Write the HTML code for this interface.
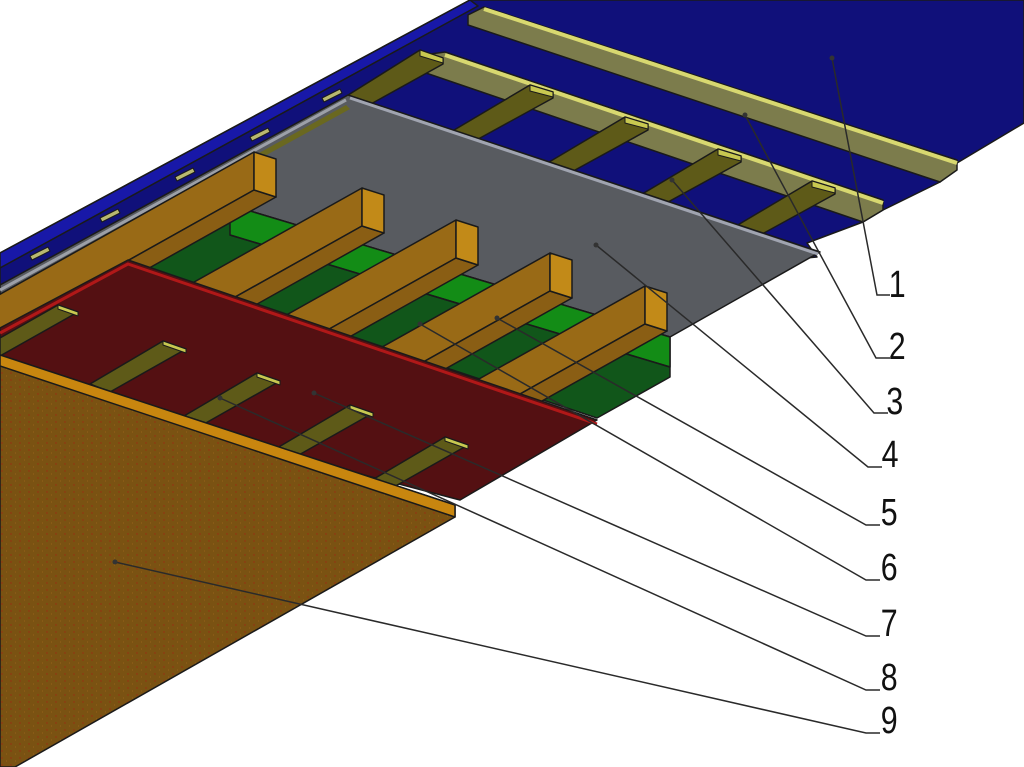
<!DOCTYPE html>
<html><head><meta charset="utf-8"><style>
html,body{margin:0;padding:0;background:#fff;width:1024px;height:767px;overflow:hidden}
svg{display:block}
text{font-family:"Liberation Sans",sans-serif;font-size:38px;fill:#111}
</style></head><body>
<svg width="1024" height="767" viewBox="0 0 1024 767" xmlns="http://www.w3.org/2000/svg">
<defs>
<pattern id="dots" width="9" height="7" patternUnits="userSpaceOnUse">
<rect width="9" height="7" fill="#7a5212"/>
<circle cx="2" cy="2" r="0.7" fill="#9a2a10"/>
<circle cx="6.5" cy="5" r="0.6" fill="#946018"/>
</pattern>
</defs>
<g stroke="#1a1a1a" stroke-width="1.5" stroke-linejoin="round">
<!-- blue panel -->
<polygon points="0,253 470,0 1024,0 1024,123 957,163 940,182 883,210 863,222 807,243 817,257 0,330" fill="#10107a"/>
<polygon points="0,253 470,0 478,6 0,268" fill="#1818a8"/>
<!-- long battens -->
<polygon points="468,15 484,7 957,160 957,170 940,182 468,25" fill="#7c7c4c"/>
<line x1="484" y1="9" x2="957" y2="163" stroke="#d8d870" stroke-width="4"/>
<polygon points="423,55 445,52 883,200 883,210 863,222 423,72" fill="#7c7c4c"/>
<line x1="445" y1="55" x2="883" y2="203" stroke="#d8d870" stroke-width="4"/>
<!-- cross battens -->
<g fill="#5e5a18">
<polygon points="420,50 443,58 443,64 360,110 337,102"/>
<polygon points="530,85 553,92 553,98 440,160 417,152"/>
<polygon points="625,117 648,124 648,130 535,192 512,184"/>
<polygon points="718,149 741,156 741,162 628,224 605,216"/>
<polygon points="812,181 835,188 835,194 722,256 699,248"/>
</g>
<g fill="#c8c850" stroke-width="1">
<polygon points="420,50 443,58 443,63 420,56"/>
<polygon points="530,85 553,92 553,97 530,91"/>
<polygon points="625,117 648,124 648,129 625,123"/>
<polygon points="718,149 741,156 741,161 718,155"/>
<polygon points="812,181 835,188 835,193 812,187"/>
</g>
<!-- gray panel -->
<polygon points="0,285 348,95 820,252 670,337 230,205 0,340" fill="#585b60"/>
<line x1="350" y1="98" x2="818" y2="254" stroke="#a0a4b0" stroke-width="3"/>
<line x1="0" y1="290" x2="346" y2="100" stroke="#9ca0a8" stroke-width="3"/>
<polygon points="0,296 346,105 350,109 0,302" fill="#6a6820" stroke="none"/>
<!-- small battens on left edge -->
<g fill="#b8b870" stroke-width="1">
<polygon points="30,256 48,247 50,251 32,260"/><polygon points="100,218 118,209 120,213 102,222"/>
<polygon points="175,177 193,168 195,172 177,181"/><polygon points="250,137 268,128 270,132 252,141"/>
<polygon points="322,98 340,89 342,93 324,102"/>
</g>
<!-- green layer -->
<polygon points="128,262 230,205 670,337 670,377 597,418" fill="#11561a"/>
<polygon points="230,205 670,337 670,367 230,235" fill="#138c16"/>
<line x1="230" y1="235" x2="670" y2="367"/>
<!-- beams -->
<g>
<polygon points="254,152 254,190 -146,414 -146,376" fill="#996a16"/>
<polygon points="254,190 276,197 -124,421 -146,414" fill="#8a5e14"/>
<polygon points="254,152 276,159 276,197 254,190" fill="#c28a18"/>
<polygon points="362,188 362,226 -38,450 -38,412" fill="#996a16"/>
<polygon points="362,226 384,233 -16,457 -38,450" fill="#8a5e14"/>
<polygon points="362,188 384,195 384,233 362,226" fill="#c28a18"/>
<polygon points="456,220 456,258 56,482 56,444" fill="#996a16"/>
<polygon points="456,258 478,265 78,489 56,482" fill="#8a5e14"/>
<polygon points="456,220 478,227 478,265 456,258" fill="#c28a18"/>
<polygon points="550,253 550,291 150,515 150,477" fill="#996a16"/>
<polygon points="550,291 572,298 172,522 150,515" fill="#8a5e14"/>
<polygon points="550,253 572,260 572,298 550,291" fill="#c28a18"/>
<polygon points="645,286 645,324 245,548 245,510" fill="#996a16"/>
<polygon points="645,324 667,331 267,555 245,548" fill="#8a5e14"/>
<polygon points="645,286 667,293 667,331 645,324" fill="#c28a18"/>
</g>
<!-- red panel -->
<polygon points="0,328 128,260 597,420 460,500 0,380" fill="#541012"/>
<polyline points="0,333 128,264 597,424" fill="none" stroke="#b01818" stroke-width="3"/>
<!-- slots -->
<g>
<polygon points="58,305 78,312 0,356 0,338" fill="#5e5a18"/>
<polygon points="163,341 186,349 110,392 90,384" fill="#5e5a18"/>
<polygon points="257,373 280,381 204,424 184,416" fill="#5e5a18"/>
<polygon points="350,405 373,413 297,456 277,448" fill="#5e5a18"/>
<polygon points="445,437 468,445 392,488 372,480" fill="#5e5a18"/>
</g>
<g fill="#c8c850" stroke-width="1">
<polygon points="58,305 78,312 78,316 58,309"/>
<polygon points="163,341 186,349 186,353 163,345"/>
<polygon points="257,373 280,381 280,385 257,377"/>
<polygon points="350,405 373,413 373,417 350,409"/>
<polygon points="445,437 468,445 468,449 445,441"/>
</g>
<!-- brown board -->
<polygon points="0,355 455,505 455,517 15,767 0,767" fill="url(#dots)"/>
<polygon points="0,355 455,505 455,517 0,366" fill="#c8860f"/>
</g>
<!-- leaders -->
<g stroke="#2a2a2a" stroke-width="1.5" fill="none">
<polyline points="832,58 877,295 890,295"/>
<polyline points="745,115 876,358 890,358"/>
<polyline points="672,180 874,413 888,413"/>
<polyline points="596,245 868,467 882,467"/>
<polyline points="497,318 866,525 880,525"/>
<polyline points="420,324 866,580 880,580"/>
<polyline points="314,393 866,636 880,636"/>
<polyline points="220,398 866,690 880,690"/>
<polyline points="115,562 866,733 880,733"/>
</g>
<g fill="#333">
<circle cx="832" cy="58" r="2.5"/><circle cx="745" cy="115" r="2.5"/><circle cx="672" cy="180" r="2.5"/>
<circle cx="596" cy="245" r="2.5"/><circle cx="497" cy="318" r="2.5"/><circle cx="420" cy="324" r="2.5"/>
<circle cx="314" cy="393" r="2.5"/><circle cx="220" cy="398" r="2.5"/><circle cx="115" cy="562" r="2.5"/>
</g>
<g transform="scale(0.8,1)">
<text x="1111" y="297">1</text>
<text x="1111" y="359">2</text>
<text x="1108" y="414">3</text>
<text x="1102" y="467">4</text>
<text x="1101" y="525">5</text>
<text x="1101" y="580">6</text>
<text x="1101" y="636">7</text>
<text x="1101" y="690">8</text>
<text x="1101" y="733">9</text>
</g>
</svg>
</body></html>
